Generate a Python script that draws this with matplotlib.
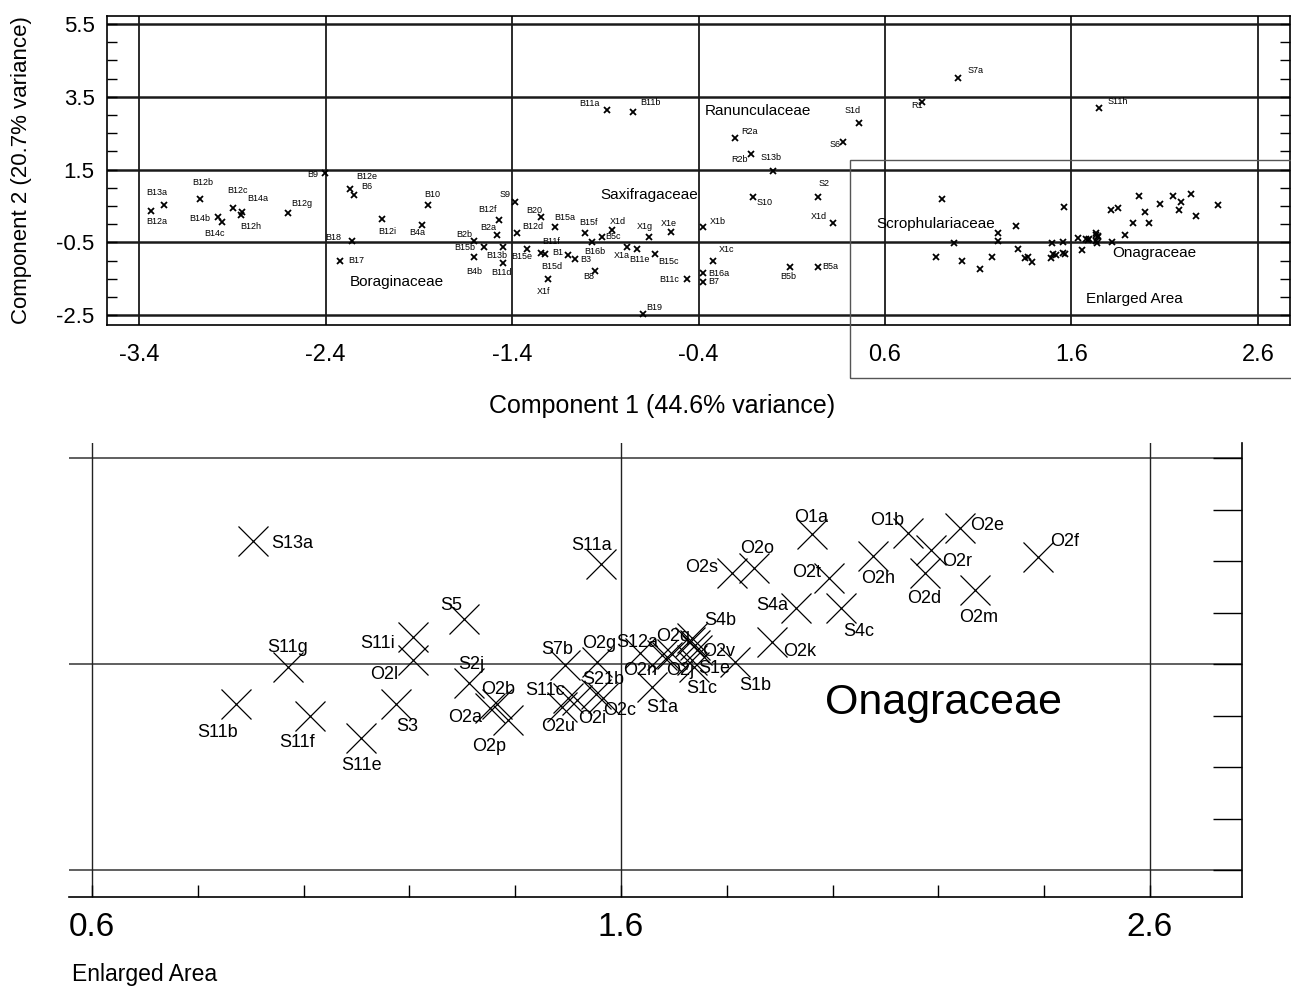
import matplotlib
matplotlib.use("Agg")
import matplotlib.pyplot as plt
from matplotlib.patches import Rectangle
import numpy as np

plt.rcParams['font.family'] = ['Liberation Sans', 'DejaVu Sans']

# points of the full plot that lie outside the enlarged area
top_names = ['B12a', 'B13a', 'B12b', 'B12c', 'B14a', 'B12h', 'B14b', 'B14c', 'B12g',
             'B9', 'B12e', 'B6', 'B10', 'B12i', 'B4a', 'B18', 'B17', 'S9', 'B12f',
             'B2a', 'B2b', 'B15b', 'B4b', 'B13b', 'B11d', 'B12d', 'B20', 'B15a',
             'B15e', 'B11f', 'B15d', 'X1f', 'B1', 'B3', 'B8', 'B15f', 'B16b', 'X1d',
             'B5c', 'X1a', 'B11e', 'B15c', 'X1g', 'X1e', 'B11c', 'X1b', 'X1c', 'B16a',
             'B7', 'B5b', 'B5a', 'B19', 'B11a', 'B11b', 'R2a', 'R2b', 'S13b', 'S6',
             'S1d', 'S10', 'S2', 'X1d ', 'S7a', 'R1', 'S11h']
top_x = [-3.336, -3.266, -3.073, -2.896, -2.848, -2.853, -2.976, -2.955, -2.601,
         -2.403, -2.269, -2.247, -1.850, -2.097, -1.883, -2.258, -2.322, -1.384, -1.470,
         -1.480, -1.604, -1.550, -1.604, -1.448, -1.448, -1.373, -1.244, -1.169,
         -1.320, -1.244, -1.223, -1.207, -1.100, -1.062, -0.955, -1.009, -0.971, -0.864,
         -0.917, -0.783, -0.730, -0.633, -0.665, -0.547, -0.462, -0.376, -0.322, -0.376,
         -0.376, 0.091, 0.241, -0.698, -0.891, -0.751, -0.204, -0.118, -0.001, 0.375,
         0.461, -0.108, 0.241, 0.321, 0.991, 0.798, 1.747]
top_y = [0.363, 0.527, 0.692, 0.445, 0.335, 0.253, 0.198, 0.060, 0.308,
         1.407, 0.967, 0.802, 0.527, 0.143, -0.022, -0.462, -1.011, 0.610, 0.115,
         -0.297, -0.462, -0.626, -0.901, -0.626, -1.066, -0.242, 0.198, -0.077,
         -0.681, -0.791, -0.819, -1.505, -0.846, -0.956, -1.286, -0.242, -0.489, -0.159,
         -0.352, -0.626, -0.681, -0.819, -0.352, -0.214, -1.505, -0.077, -1.011, -1.341,
         -1.588, -1.176, -1.176, -2.467, 3.137, 3.082, 2.368, 1.929, 1.462, 2.258,
         2.780, 0.747, 0.747, 0.033, 4.016, 3.357, 3.192]

# points inside the enlarged area (drawn in both panels)
enl_names = ['S13a', 'S11a', 'S5', 'S11i', 'O2l', 'S11g', 'S2j', 'S11b', 'S11f', 'S3',
             'S11e', 'O2b', 'O2a', 'O2p', 'S7b', 'O2g', 'S21b', 'S11c', 'O2u', 'O2i',
             'O2c', 'S1a', 'S12a', 'O2n', 'O2q', 'O2j', 'S4b', 'O2v', 'S1e', 'S1c',
             'S1b', 'O2k', 'S4a', 'S4c', 'O2s', 'O2o', 'O2t', 'O1a', 'O2h', 'O1b',
             'O2r', 'O2e', 'O2d', 'O2m', 'O2f', '', ' ']
enl_x = [0.904, 1.562, 1.303, 1.207, 1.207, 0.971, 1.313, 0.872, 1.012, 1.175,
         1.109, 1.366, 1.352, 1.386, 1.494, 1.555, 1.553, 1.500, 1.489, 1.517,
         1.566, 1.659, 1.636, 1.678, 1.730, 1.687, 1.740, 1.744, 1.734, 1.738,
         1.816, 1.885, 1.931, 2.016, 1.810, 1.851, 1.993, 1.961, 2.076, 2.143,
         2.186, 2.241, 2.175, 2.269, 2.388, 1.696, 1.734]
enl_y = [0.694, 0.471, -0.063, -0.238, -0.461, -0.529, -0.684, -0.888, -1.005, -0.888,
         -1.218, -0.888, -0.927, -1.044, -0.510, -0.481, -0.791, -0.830, -0.917, -0.850,
         -0.830, -0.723, -0.393, -0.413, -0.286, -0.432, -0.316, -0.364, -0.461, -0.529,
         -0.481, -0.286, 0.044, 0.044, 0.383, 0.432, 0.335, 0.762, 0.549, 0.772,
         0.607, 0.820, 0.383, 0.218, 0.539, -0.403, -0.248]

families = ['Ranunculaceae', 'Saxifragaceae', 'Boraginaceae', 'Scrophulariaceae',
            'Onagraceae', 'Enlarged Area']
fam_x = [-0.081, -0.665, -2.017, 0.874, 2.042, 1.94]
fam_y = [3.11, 0.80, -1.59, 0.0, -0.79, -2.05]

top_xticks = [-3.4, -2.4, -1.4, -0.4, 0.6, 1.6, 2.6]
top_yticks = [5.5, 3.5, 1.5, -0.5, -2.5]
enl_xticks = [0.6, 1.6, 2.6]
enl_ylines = [1.5, -0.5, -2.5]

# label offsets in pixels (dx right, dy down) from the marker
top_off = {'B12a': (6, 11), 'B13a': (-7, -13), 'B12b': (3, -16), 'B12c': (4, -17),
           'B14a': (16, -13), 'B12h': (10, 12), 'B14b': (-18, 2), 'B14c': (-8, 11),
           'B12g': (14, -9), 'B9': (-12, 2), 'B12e': (17, -12), 'B6': (13, -8),
           'B10': (4, -11), 'B12i': (5, 13), 'B4a': (-5, 8), 'B18': (-19, -3),
           'B17': (16, 0), 'S9': (-10, -7), 'B12f': (-11, -10), 'B2a': (-9, -7),
           'B2b': (-10, -6), 'B15b': (-19, 1), 'B4b': (0, 15), 'B13b': (-6, 9),
           'B11d': (-2, 10), 'B12d': (16, -6), 'B20': (-7, -6), 'B15a': (10, -9),
           'B15e': (-5, 8), 'B11f': (10, -11), 'B15d': (7, 13), 'X1f': (-4, 13),
           'B1': (-10, -2), 'B3': (11, 1), 'B8': (-6, 6), 'B15f': (4, -10),
           'B16b': (3, 10), 'X1d': (6, -8), 'B5c': (11, 0), 'X1a': (-5, 9),
           'B11e': (2, 11), 'B15c': (13, 8), 'X1g': (-4, -10), 'X1e': (-2, -8),
           'B11c': (-18, 1), 'X1b': (15, -5), 'X1c': (14, -11), 'B16a': (16, 1),
           'B7': (11, 0), 'B5b': (-2, 10), 'B5a': (12, 0), 'B19': (11, -6),
           'B11a': (-18, -7), 'B11b': (17, -10), 'R2a': (14, -6), 'R2b': (-12, 6),
           'S13b': (-2, -13), 'S6': (-8, 2), 'S1d': (-6, -13), 'S10': (12, 6),
           'S2': (6, -13), 'X1d ': (-14, -6), 'S7a': (18, -8), 'R1': (-5, 3),
           'S11h': (19, -7)}
enl_off = {'S13a': (39, 2), 'S11a': (-9, -19), 'S5': (-13, -14), 'S11i': (-36, 6),
           'O2l': (-29, 14), 'S11g': (-1, -20), 'S2j': (2, -18), 'S11b': (-18, 29),
           'S11f': (-13, 26), 'S3': (11, 23), 'S11e': (0, 28), 'O2b': (1, -14),
           'O2a': (-25, 9), 'O2p': (-19, 26), 'S7b': (-8, -16), 'O2g': (2, -19),
           'S21b': (7, -14), 'S11c': (-23, -8), 'O2u': (-4, 20), 'O2i': (15, 18),
           'O2c': (17, 12), 'S1a': (10, 21), 'S12a': (-3, -11), 'O2n': (-22, 15),
           'O2q': (-17, -5), 'O2j': (13, 13), 'S4b': (25, -25), 'O2v': (21, 1),
           'S1e': (22, 8), 'S1c': (8, 21), 'S1b': (20, 23), 'O2k': (28, 10),
           'S4a': (-24, -2), 'S4c': (18, 24), 'O2s': (-30, -6), 'O2o': (3, -20),
           'O2t': (-22, -6), 'O1a': (-1, -17), 'O2h': (5, 23), 'O1b': (-21, -13),
           'O2r': (26, 11), 'O2e': (27, -3), 'O2d': (-1, 25), 'O2m': (4, 27),
           'O2f': (27, -16)}

W, H = 1291, 986
fig = plt.figure(figsize=(W / 100, H / 100), dpi=100)

# ---- full plot ----
ax1 = fig.add_axes([107 / W, 1 - 325 / H, (1290 - 107) / W, (325 - 16) / H])
ax1.set_xlim(-3.572, 2.772)
ax1.set_ylim(-2.77, 5.72)
for v in top_xticks:
    ax1.axvline(v, color='#1a1a1a', lw=1.3, zorder=1)
for h in top_yticks:
    ax1.axhline(h, color='#1a1a1a', lw=1.8, zorder=1)

ax1.plot(top_x, top_y, 'x', color='black', ms=5, mew=1.3, zorder=3)
ax1.plot(enl_x, enl_y, 'x', color='black', ms=5, mew=1.3, zorder=3)
for n, x, y in zip(top_names, top_x, top_y):
    dx, dy = top_off[n]
    ax1.annotate(n.strip(), (x, y), xytext=(dx, -dy), textcoords='offset pixels',
                 ha='center', va='center', fontsize=6.5)
for n, x, y in zip(families, fam_x, fam_y):
    ax1.text(x, y, n, ha='center', va='center', fontsize=11)

ax1.set_xticks(top_xticks)
ax1.set_xticklabels([f"{v:.1f}" for v in top_xticks], fontsize=17)
ax1.set_yticks(top_yticks)
ax1.set_yticklabels([f"{v:.1f}" for v in top_yticks], fontsize=16)
ax1.set_yticks(np.arange(-2.5, 5.6, 0.5), minor=True)
ax1.tick_params(axis='x', which='both', length=0, pad=14)
ax1.tick_params(axis='y', which='both', direction='in', left=True, right=True,
                length=7, width=1, pad=9)
for s in ax1.spines.values():
    s.set_linewidth(1.2)

fig.text(22 / W, 1 - 170 / H, 'Component 2 (20.7% variance)', rotation=90,
         ha='center', va='center', fontsize=16)
fig.text(662 / W, 1 - 406 / H, 'Component 1 (44.6% variance)',
         ha='center', va='center', fontsize=18)

# box marking the enlarged area
fig.patches.append(Rectangle((850 / W, 1 - 378 / H), 0.5, (378 - 160) / H,
                             transform=fig.transFigure, fill=False,
                             edgecolor='#555555', lw=1.0, zorder=5))

# ---- enlarged area ----
ax2 = fig.add_axes([69 / W, 1 - 897 / H, (1242 - 69) / W, (897 - 443) / H])
ax2.set_xlim(0.5565, 2.774)
ax2.set_ylim(-2.762, 1.646)
for h in enl_ylines:
    ax2.axhline(h, color='#444444', lw=1.2, zorder=1)
for v in enl_xticks:
    ax2.axvline(v, color='#222222', lw=1.0, zorder=1)

ax2.plot(enl_x, enl_y, 'x', color='black', ms=22, mew=0.9, zorder=3)
for n, x, y in zip(enl_names, enl_x, enl_y):
    if n.strip() == '':
        continue
    dx, dy = enl_off[n]
    ax2.annotate(n, (x, y), xytext=(dx, -dy), textcoords='offset pixels',
                 ha='center', va='center', fontsize=13)
ax2.text(2.209, -0.879, 'Onagraceae', ha='center', va='center', fontsize=31)

ax2.spines['top'].set_visible(False)
ax2.spines['left'].set_visible(False)
ax2.spines['right'].set_linewidth(1.2)
ax2.spines['bottom'].set_linewidth(1.2)
ax2.set_xticks(enl_xticks)
ax2.set_xticklabels([f"{v:.1f}" for v in enl_xticks], fontsize=24)
ax2.set_xticks(np.arange(0.6, 2.61, 0.2), minor=True)
ax2.tick_params(axis='x', which='both', direction='in', length=9, width=1, pad=11)
ax2.yaxis.tick_right()
ax2.set_yticks(np.arange(-2.5, 1.6, 0.5))
ax2.set_yticklabels([])
ax2.tick_params(axis='y', which='both', direction='in', length=21, width=1)

fig.text(72 / W, 1 - 975 / H, 'Enlarged Area', ha='left', va='center', fontsize=16.5)

fig.savefig('out.png', dpi=100)
